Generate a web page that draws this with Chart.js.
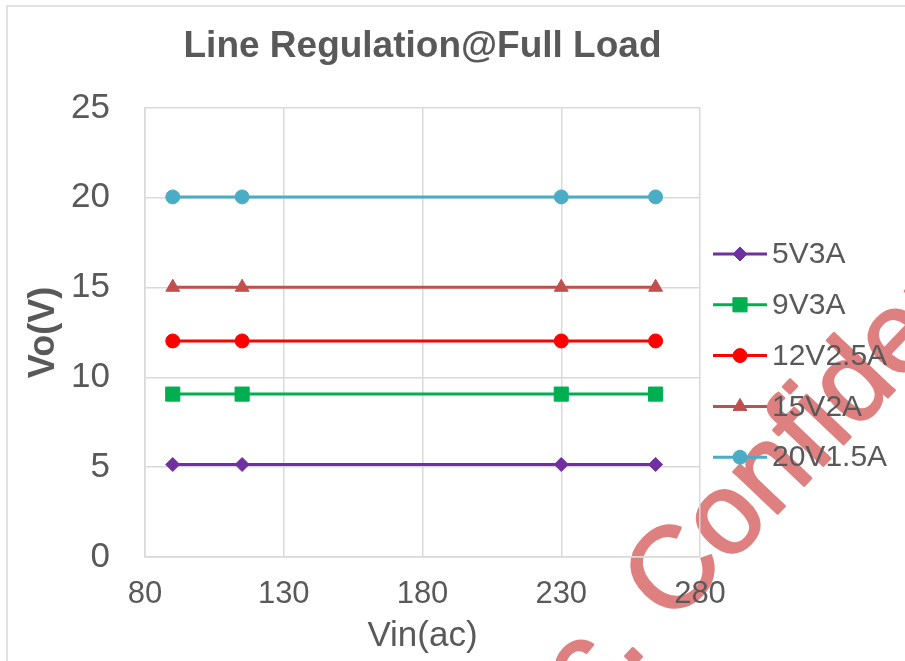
<!DOCTYPE html>
<html>
<head>
<meta charset="utf-8">
<title>Line Regulation@Full Load</title>
<script src="https://cdn.jsdelivr.net/npm/chart.js@4.4.1/dist/chart.umd.min.js"></script>
<style>
  html, body { margin: 0; padding: 0; background: #ffffff; }
  #wrap { width: 905px; height: 661px; position: relative; overflow: hidden; }
  canvas { display: block; }
</style>
</head>
<body>
<div id="wrap"><canvas id="chart" width="905" height="661"></canvas></div>
<script>
// Input voltage (Vac) at which each output was measured
const vinAC = [90, 115, 230, 264];

// Output voltage per load condition
const seriesNames = ['5V3A', '9V3A', '12V2.5A', '15V2A', '20V1.5A'];
const vo5V3A    = [5.15, 5.15, 5.15, 5.15];
const vo9V3A    = [9.07, 9.07, 9.07, 9.07];
const vo12V2_5A = [12.03, 12.03, 12.03, 12.03];
const vo15V2A   = [15.02, 15.02, 15.02, 15.02];
const vo20V1_5A = [20.05, 20.05, 20.05, 20.05];

// Axis ticks
const xTicks = [80, 130, 180, 230, 280];
const yTicks = [0, 5, 10, 15, 20, 25];

const FONT = '"Liberation Sans", Arial, sans-serif';
const TEXT = '#595959';
const GRID = '#D9D9D9';

const seriesValues = [vo5V3A, vo9V3A, vo12V2_5A, vo15V2A, vo20V1_5A];
const seriesColors = ['#7030A0', '#00B050', '#FF0000', '#C0504D', '#4BACC6'];
const seriesMarkers = ['rectRot', 'rect', 'circle', 'triangle', 'circle'];
const markerRadius = [7, 10, 7, 8, 7];

const datasets = seriesNames.map((name, i) => ({
  label: name,
  data: vinAC.map((x, j) => ({ x: x, y: seriesValues[i][j] })),
  borderColor: seriesColors[i],
  backgroundColor: seriesColors[i],
  pointBackgroundColor: seriesColors[i],
  pointBorderColor: seriesColors[i],
  pointBorderWidth: 1,
  pointStyle: seriesMarkers[i],
  pointRadius: markerRadius[i],
  pointHoverRadius: markerRadius[i],
  borderWidth: 3,
  tension: 0,
  fill: false
}));

// Frame around the whole figure and the diagonal watermark behind it
const backdrop = {
  id: 'backdrop',
  beforeDraw(chart) {
    const ctx = chart.ctx;
    ctx.save();
    ctx.strokeStyle = GRID;
    ctx.lineWidth = 1.5;
    ctx.strokeRect(7, 6, 1200, 1200);
    ctx.translate(671, 626);
    ctx.rotate(-46.5 * Math.PI / 180);
    ctx.font = '115px ' + FONT;
    ctx.fillStyle = 'rgb(223,128,128)';
    ctx.strokeStyle = 'rgb(223,128,128)';
    ctx.lineWidth = 2.5;
    ctx.lineJoin = 'round';
    ctx.textBaseline = 'alphabetic';
    ctx.textAlign = 'left';
    ctx.fillText('Confidential', 0, 0);
    ctx.strokeText('Confidential', 0, 0);
    ctx.textAlign = 'right';
    ctx.fillText('Inc. ', 0, 0);
    ctx.strokeText('Inc. ', 0, 0);
    ctx.restore();
  }
};

// Legend to the right of the plot: line segment with marker, then label
const sideLegend = {
  id: 'sideLegend',
  afterDraw(chart) {
    const ctx = chart.ctx;
    const area = chart.chartArea;
    const x0 = area.right + 13, x1 = area.right + 67, xm = (x0 + x1) / 2, tx = area.right + 72;
    const y0 = 254, gap = 50.8;
    ctx.save();
    chart.data.datasets.forEach((ds, i) => {
      const y = y0 + i * gap;
      ctx.strokeStyle = ds.borderColor;
      ctx.lineWidth = 3;
      ctx.beginPath();
      ctx.moveTo(x0, y);
      ctx.lineTo(x1, y);
      ctx.stroke();
      ctx.fillStyle = ds.pointBackgroundColor;
      ctx.strokeStyle = ds.pointBorderColor;
      ctx.lineWidth = 1;
      Chart.helpers.drawPoint(ctx, {
        pointStyle: ds.pointStyle,
        radius: ds.pointRadius,
        rotation: 0,
        borderWidth: 1
      }, xm, y);
      ctx.fillStyle = TEXT;
      ctx.font = '30px ' + FONT;
      ctx.textAlign = 'left';
      ctx.textBaseline = 'middle';
      ctx.fillText(ds.label, tx, y + 1);
    });
    ctx.restore();
  }
};

new Chart(document.getElementById('chart'), {
  type: 'line',
  data: { datasets: datasets },
  plugins: [backdrop, sideLegend],
  options: {
    responsive: false,
    animation: false,
    events: [],
    layout: { padding: { left: 7, right: 205, top: 0, bottom: 0 } },
    plugins: {
      legend: { display: false },
      tooltip: { enabled: false },
      title: {
        display: true,
        text: 'Line Regulation@Full Load',
        color: TEXT,
        fullSize: false,
        font: { family: FONT, size: 37, weight: 'bold' },
        padding: { top: 25, bottom: 38.6 }
      }
    },
    scales: {
      x: {
        type: 'linear',
        min: xTicks[0],
        max: xTicks[xTicks.length - 1],
        afterBuildTicks(scale) { scale.ticks = xTicks.map(v => ({ value: v })); },
        afterFit(scale) { scale.height = 104; },
        ticks: {
          color: TEXT,
          padding: 19,
          maxRotation: 0,
          font: { family: FONT, size: 31 }
        },
        grid: { color: GRID, lineWidth: 1.5, drawTicks: false },
        border: { color: GRID, width: 1.5 },
        title: {
          display: true,
          text: 'Vin(ac)',
          color: TEXT,
          font: { family: FONT, size: 35 },
          padding: { top: 0, bottom: 4 }
        }
      },
      y: {
        type: 'linear',
        min: yTicks[0],
        max: yTicks[yTicks.length - 1],
        afterBuildTicks(scale) { scale.ticks = yTicks.map(v => ({ value: v })); },
        afterFit(scale) { scale.width = 138; },
        ticks: {
          color: TEXT,
          padding: 35,
          font: { family: FONT, size: 35 }
        },
        grid: { color: GRID, lineWidth: 1.5, drawTicks: false },
        border: { color: GRID, width: 1.5 },
        title: {
          display: true,
          text: 'Vo(V)',
          color: TEXT,
          font: { family: FONT, size: 36, weight: 'bold' },
          padding: { top: 15, bottom: 0 }
        }
      }
    }
  }
});
</script>
</body>
</html>
